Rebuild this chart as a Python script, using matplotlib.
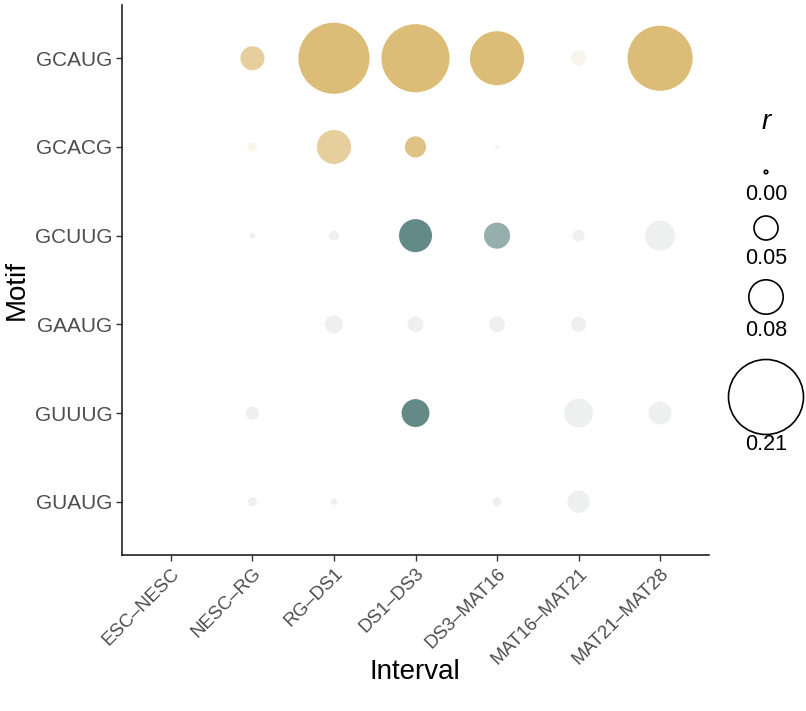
"""Motif enrichment bubble plot across developmental intervals."""

import matplotlib

matplotlib.use("Agg")
import matplotlib.pyplot as plt
import numpy as np
from matplotlib.colors import LinearSegmentedColormap, Normalize

plt.rcParams["font.family"] = ["Liberation Sans", "DejaVu Sans"]

intervals = ["ESC–NESC", "NESC–RG", "RG–DS1", "DS1–DS3", "DS3–MAT16", "MAT16–MAT21", "MAT21–MAT28"]
motifs = ["GUAUG", "GUUUG", "GAAUG", "GCUUG", "GCACG", "GCAUG"]  # bottom -> top

nan = np.nan
# |r| per motif (rows, bottom -> top) and interval (columns)
r_values = np.array([
    [nan, 0.011, 0.005, nan,   0.011, 0.045, nan],    # GUAUG
    [nan, 0.021, nan,   0.061, nan,   0.064, 0.047],  # GUUUG
    [nan, nan,   0.034, 0.028, 0.028, 0.026, nan],    # GAAUG
    [nan, 0.004, 0.013, 0.076, 0.056, 0.018, 0.067],  # GCUUG
    [nan, 0.011, 0.079, 0.042, 0.001, nan,   nan],    # GCACG
    [nan, 0.050, 0.197, 0.187, 0.141, 0.026, 0.177],  # GCAUG
])
# signed colour score (-1 depleted ... +1 enriched, 0 = not significant)
scores = np.array([
    [nan, 0.0,  0.0,  nan,   0.0,   0.0,  nan],
    [nan, 0.0,  nan,  -0.93, nan,   0.0,  0.0],
    [nan, nan,  0.0,  0.0,   0.0,   0.0,  nan],
    [nan, 0.0,  0.0,  -0.93, -0.59, 0.0,  0.0],
    [nan, 0.08, 0.70, 0.90,  0.08,  nan,  nan],
    [nan, 0.70, 1.0,  1.0,   1.0,   0.08, 1.0],
])
legend_breaks = [0.00, 0.05, 0.08, 0.21]

cmap = LinearSegmentedColormap.from_list(
    "motif",
    [(0.0, "#5a827f"), (0.5, "#eef0ef"), (0.515, "#eef0ef"), (0.53, "#fbf6ec"), (1.0, "#dcbd78")],
    N=1024,
)
norm = Normalize(-1, 1)


def marker_area(r):
    # diameter in px (dpi 100) -> scatter area in pt^2
    d = 3.5 + 71.5 * (np.abs(r) / 0.21) ** 0.87
    return (d * 0.72) ** 2


W, H = 806, 711
fig = plt.figure(figsize=(W / 100, H / 100), dpi=100)
ax = fig.add_axes([122 / W, (H - 555) / H, (709 - 122) / W, (555 - 5) / H])

yy, xx = np.meshgrid(np.arange(len(motifs)), np.arange(len(intervals)), indexing="ij")
mask = ~np.isnan(r_values)
order = np.argsort(-r_values[mask])
ax.scatter(
    xx[mask][order], yy[mask][order],
    s=marker_area(r_values[mask][order]),
    c=scores[mask][order], cmap=cmap, norm=norm,
    linewidths=0, zorder=3,
)

ax.set_xlim(-0.6, len(intervals) - 0.4)
ax.set_ylim(-0.6, len(motifs) - 0.4)
ax.set_xticks(range(len(intervals)))
ax.set_xticklabels(intervals, rotation=45, ha="right", rotation_mode="anchor",
                   fontsize=13.5, color="#4d4d4d")
ax.set_yticks(range(len(motifs)))
ax.set_yticklabels(motifs, fontsize=15, color="#4d4d4d")
ax.tick_params(axis="both", length=4, width=1, color="#333333", pad=3)
for side in ("top", "right"):
    ax.spines[side].set_visible(False)
for side in ("left", "bottom"):
    ax.spines[side].set_linewidth(1.2)
    ax.spines[side].set_color("#222222")
ax.set_xlabel("Interval", fontsize=20, va="center")
ax.set_ylabel("Motif", fontsize=20, va="center")
ax.xaxis.set_label_coords((415 - 122) / (709 - 122), (555 - 672) / (555 - 5))
ax.yaxis.set_label_coords((17 - 122) / (709 - 122), (555 - 290) / (555 - 5))

# size legend drawn in pixel space
lax = fig.add_axes([0, 0, 1, 1], facecolor="none")
lax.set_xlim(0, W)
lax.set_ylim(H, 0)
lax.axis("off")
lax.text(766, 122, "r", fontsize=20, style="italic", ha="center", va="center")
circle_y = [172, 228, 297, 397]
label_y = [194, 259, 330, 445]
for val, cy, ly in zip(legend_breaks, circle_y, label_y):
    lax.scatter([766], [cy], s=marker_area(val), facecolors="none",
                edgecolors="black", linewidths=1.2)
    lax.text(766, ly, f"{val:.2f}", fontsize=15.5, ha="center", va="center")

fig.savefig("out.png", dpi=100)
